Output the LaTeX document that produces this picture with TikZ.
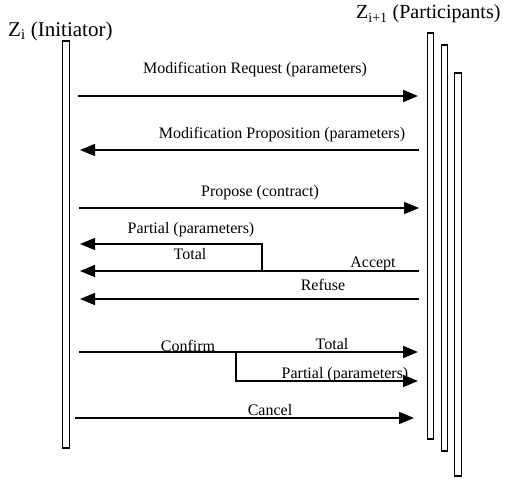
\documentclass[tikz,border=0pt]{standalone}
\usepackage{fontspec}
\setmainfont{Liberation Serif}
\usetikzlibrary{positioning,arrows.meta}

\begin{document}
\begin{tikzpicture}[x=1pt, y=-1pt,
        % lifelines: narrow white bars
        lifeline/.style={draw, line width=1.2pt, fill=white, minimum width=6.5pt, inner sep=0pt},
        % messages: thick line, filled triangle head
        msg/.style={draw, line width=1.6pt, -{Triangle[length=15pt, width=12pt]}},
        msglabel/.style={font=\fontsize{16}{18}\selectfont, inner sep=0pt, anchor=base},
        headlabel/.style={font=\fontsize{21}{23}\selectfont, inner sep=0pt, anchor=base west}
    ]
        \useasboundingbox (0,0) rectangle (506,479);

        % --- LIFELINES ---
        \node[lifeline, minimum height=407pt] (init) at (66,244.5) {};
        \node[lifeline, minimum height=406pt] (partA) at (430.5,236) {};
        \node[lifeline, minimum height=406pt] (partB) at (444.5,248) {};
        \node[lifeline, minimum height=403pt] (partC) at (458,274.5) {};

        \node[headlabel] (initname) at (8,36) {Z\textsubscript{i} (Initiator)};
        \node[headlabel, font=\fontsize{20}{22}\selectfont] (partname) at (356,19) {Z\textsubscript{i+1} (Participants)};

        % --- END POINTS OF MESSAGES ---
        \coordinate (reqL) at (78,96);      \coordinate (reqR) at (418,96);
        \coordinate (propL) at (80,150);    \coordinate (propR) at (419,150);
        \coordinate (ctrL) at (79,208);     \coordinate (ctrR) at (419,208);
        \coordinate (accL) at (80,271);     \coordinate (accR) at (419,271);
        \coordinate (partL) at (80,244);    \coordinate (accSplit) at (262,271);
        \coordinate (refL) at (80,299);     \coordinate (refR) at (419,299);
        \coordinate (cnfL) at (79,352);     \coordinate (cnfR) at (418,352);
        \coordinate (cnfSplit) at (236,352); \coordinate (cnfP) at (418,381);
        \coordinate (canL) at (75,418);     \coordinate (canR) at (414,418);

        % --- MESSAGES ---
        \draw[msg] (reqL) -- (reqR);
        \node[msglabel] (reqtext) at (255,73) {Modification Request (parameters)};

        \draw[msg] (propR) -- (propL);
        \node[msglabel] (proptext) at (282,138) {Modification Proposition (parameters)};

        \draw[msg] (ctrL) -- (ctrR);
        \node[msglabel] (ctrtext) at (260,196) {Propose (contract)};

        % Accept: total or partial
        \draw[msg] (accR) -- (accL);
        \draw[msg] (accSplit) |- (partL);
        \node[msglabel] (parttext) at (191,233) {Partial (parameters)};
        \node[msglabel] (totaltext) at (190,259) {Total};
        \node[msglabel] (acctext) at (373,267) {Accept};

        \draw[msg] (refR) -- (refL);
        \node[msglabel] (reftext) at (323,290) {Refuse};

        % Confirm: total or partial
        \draw[msg] (cnfL) -- (cnfR);
        \draw[msg] (cnfSplit) |- (cnfP);
        \node[msglabel] (cnftext) at (188,351) {Confirm};
        \node[msglabel] (cnftotal) at (332,349) {Total};
        \node[msglabel] (cnfpart) at (345,378) {Partial (parameters)};

        \draw[msg] (canL) -- (canR);
        \node[msglabel] (cantext) at (270,415) {Cancel};

    \end{tikzpicture}
\end{document}
